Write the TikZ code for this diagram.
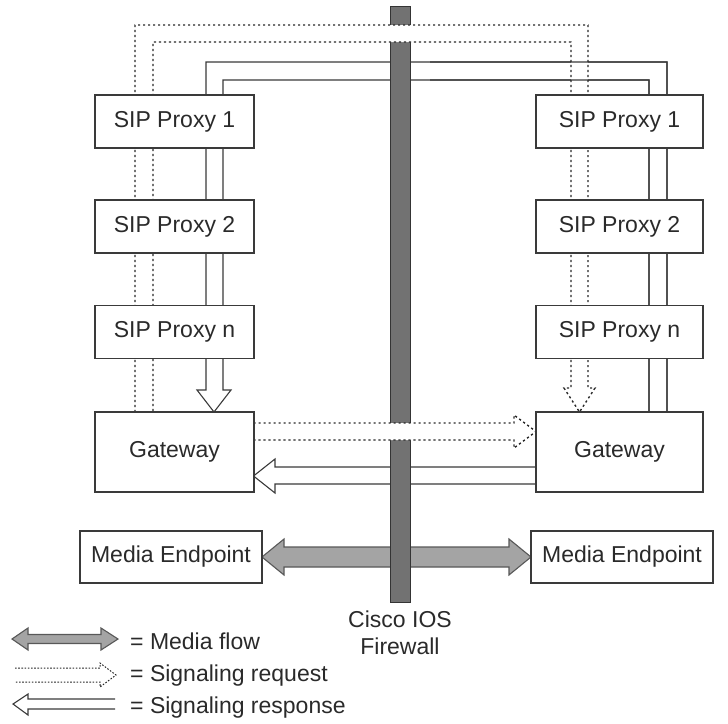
\documentclass[tikz,border=0pt]{standalone}
\usepackage{fontspec}
\setmainfont{Liberation Sans}
\usetikzlibrary{calc}
\definecolor{ln}{HTML}{3A3A3A}
\definecolor{txt}{HTML}{2A2A2A}
\definecolor{fw}{HTML}{727272}
\definecolor{media}{HTML}{A4A4A4}
\begin{document}
\begin{tikzpicture}[x=1pt,y=-1pt,
  box/.style={draw=ln,line width=1.2pt,fill=white,text=txt,font=\fontsize{23}{27}\selectfont,inner sep=0pt},
  lbox/.style={box,minimum width=159pt,minimum height=53pt},
  rbox/.style={box,minimum width=167pt,minimum height=53pt},
  lgwbox/.style={box,minimum width=159pt,minimum height=80pt},
  rgwbox/.style={box,minimum width=167pt,minimum height=80pt},
  mebox/.style={box,minimum width=182pt,minimum height=52pt},
  resp/.style={draw=ln,line width=1.1pt,line join=miter},
  req/.style={draw=ln!70!black,line width=1.4pt,dash pattern=on 2.2pt off 2.8pt},
  mediaarrow/.style={draw=ln!85,line width=1.1pt,fill=media,line join=miter},
  lbl/.style={text=txt,font=\fontsize{23}{27}\selectfont,inner sep=0pt}]
\useasboundingbox (0,0) rectangle (728,723);

% ---- anchor coordinates of the boxes (boxes drawn later on top)
\coordinate (Lgwn) at (174.5,412);
\coordinate (Rgwn) at (619.5,412);
\coordinate (Lgwe) at (253.5,452);
\coordinate (Rgww) at (536,452);
\coordinate (lmeE) at (262,557);
\coordinate (rmeW) at (531,557);

% ---- response (solid) big arrow: behind the firewall
\path[fill=white] (649,0 |- Rgwn) -- (649,80) -- (223,80) -- (223,390) -- (231,390) -- (214,0 |- Lgwn) -- (197,390) -- (206,390) -- (206,62) -- (667,62) -- (667,0 |- Rgwn) -- cycle;
\draw[resp] (649,0 |- Rgwn) -- (649,80) -- (223,80) -- (223,390) -- (231,390) -- (214,0 |- Lgwn) -- (197,390) -- (206,390) -- (206,62) -- (667,62) -- (667,0 |- Rgwn);
% horizontal response arrow
\path[fill=white] (Rgww |- 0,467) -- (275,467) -- (275,459) -- (Lgwe |- 0,476) -- (275,493) -- (275,484) -- (Rgww |- 0,484) -- cycle;
\draw[resp] (Rgww |- 0,467) -- (275,467) -- (275,459) -- (Lgwe |- 0,476) -- (275,493) -- (275,484) -- (Rgww |- 0,484);

% ---- media arrow (behind firewall)
\draw[mediaarrow]
  (lmeE) -- ($(lmeE)+(22,-18)$) -- ($(lmeE)+(22,-10)$) -- ($(rmeW)+(-22,-10)$) -- ($(rmeW)+(-22,-18)$)
  -- (rmeW) -- ($(rmeW)+(-22,18)$) -- ($(rmeW)+(-22,10)$) -- ($(lmeE)+(22,10)$) -- ($(lmeE)+(22,18)$) -- cycle;

% ---- firewall
\node[draw=ln!90!black,line width=1pt,fill=fw,minimum width=20pt,minimum height=596pt,inner sep=0pt] (fwbar) at (400,304) {};

% ---- request (dotted) big arrow: over the firewall
\path[fill=white] (135,0 |- Lgwn) -- (135,25) -- (588,25) -- (588,388) -- (595,388) -- (579.5,0 |- Rgwn) -- (564,388) -- (571,388) -- (571,42) -- (153,42) -- (153,0 |- Lgwn) -- cycle;
% horizontal request arrow
\path[fill=white] (Lgwe |- 0,423) -- (514,423) -- (514,415) -- (Rgww |- 0,431.5) -- (514,448) -- (514,440) -- (Lgwe |- 0,440) -- cycle;

% restroke response lines where the request band covers them
\begin{scope}
\clip (430,0) rectangle (728,723);
\draw[resp] (649,0 |- Rgwn) -- (649,80) -- (223,80) -- (223,390) -- (231,390) -- (214,0 |- Lgwn) -- (197,390) -- (206,390) -- (206,62) -- (667,62) -- (667,0 |- Rgwn);
\end{scope}

\draw[req] (135,0 |- Lgwn) -- (135,25) -- (588,25) -- (588,388) -- (595,388) -- (579.5,0 |- Rgwn) -- (564,388) -- (571,388) -- (571,42) -- (153,42) -- (153,0 |- Lgwn);
\draw[req] (Lgwe |- 0,423) -- (514,423) -- (514,415) -- (Rgww |- 0,431.5) -- (514,448) -- (514,440) -- (Lgwe |- 0,440);

% ---- boxes
\node[lbox] (lp1) at (174.5,121.5) {SIP Proxy 1};
\node[lbox] (lp2) at (174.5,226.5) {SIP Proxy 2};
\node[lbox] (lpn) at (174.5,332) {SIP Proxy n};
\node[lgwbox] (lgw) at (174.5,452) {Gateway};
\node[rbox] (rp1) at (619.5,121.5) {SIP Proxy 1};
\node[rbox] (rp2) at (619.5,226.5) {SIP Proxy 2};
\node[rbox] (rpn) at (619.5,332) {SIP Proxy n};
\node[rgwbox] (rgw) at (619.5,452) {Gateway};
\node[mebox] (lme) at (171,557) {Media Endpoint};
\node[mebox] (rme) at (622,557) {Media Endpoint};

% firewall label
\node[lbl,align=center] (fwlbl) at (400,633) {Cisco IOS\\Firewall};

% ---- legend
\coordinate (lgA) at (12,639);
\coordinate (lgB) at (118,639);
\draw[mediaarrow]
  (lgA) -- ($(lgA)+(16,-11)$) -- ($(lgA)+(16,-4.5)$) -- ($(lgB)+(-17,-4.5)$) -- ($(lgB)+(-17,-11)$)
  -- (lgB) -- ($(lgB)+(-17,11)$) -- ($(lgB)+(-17,4.5)$) -- ($(lgA)+(16,4.5)$) -- ($(lgA)+(16,11)$) -- cycle;
\coordinate (lrA) at (15,675);
\coordinate (lrB) at (116,675);
\draw[req,line width=1pt,dash pattern=on 1.6pt off 1.6pt] ($(lrA)+(0,-7)$) -- ($(lrB)+(-16,-7)$) -- ($(lrB)+(-16,-12)$) -- (lrB) -- ($(lrB)+(-16,12)$) -- ($(lrB)+(-16,7)$) -- ($(lrA)+(0,7)$);
\coordinate (lsA) at (13,704);
\coordinate (lsB) at (115,704);
\draw[resp] ($(lsB)+(0,-5)$) -- ($(lsA)+(15,-5)$) -- ($(lsA)+(15,-10)$) -- (lsA) -- ($(lsA)+(15,11)$) -- ($(lsA)+(15,5)$) -- ($(lsB)+(0,5)$);

\node[lbl,anchor=west] (t1) at (130,641) {= Media flow};
\node[lbl,anchor=west] (t2) at (130,676) {= Signaling request};
\node[lbl,anchor=west] (t3) at (130,708) {= Signaling response};
\end{tikzpicture}
\end{document}
